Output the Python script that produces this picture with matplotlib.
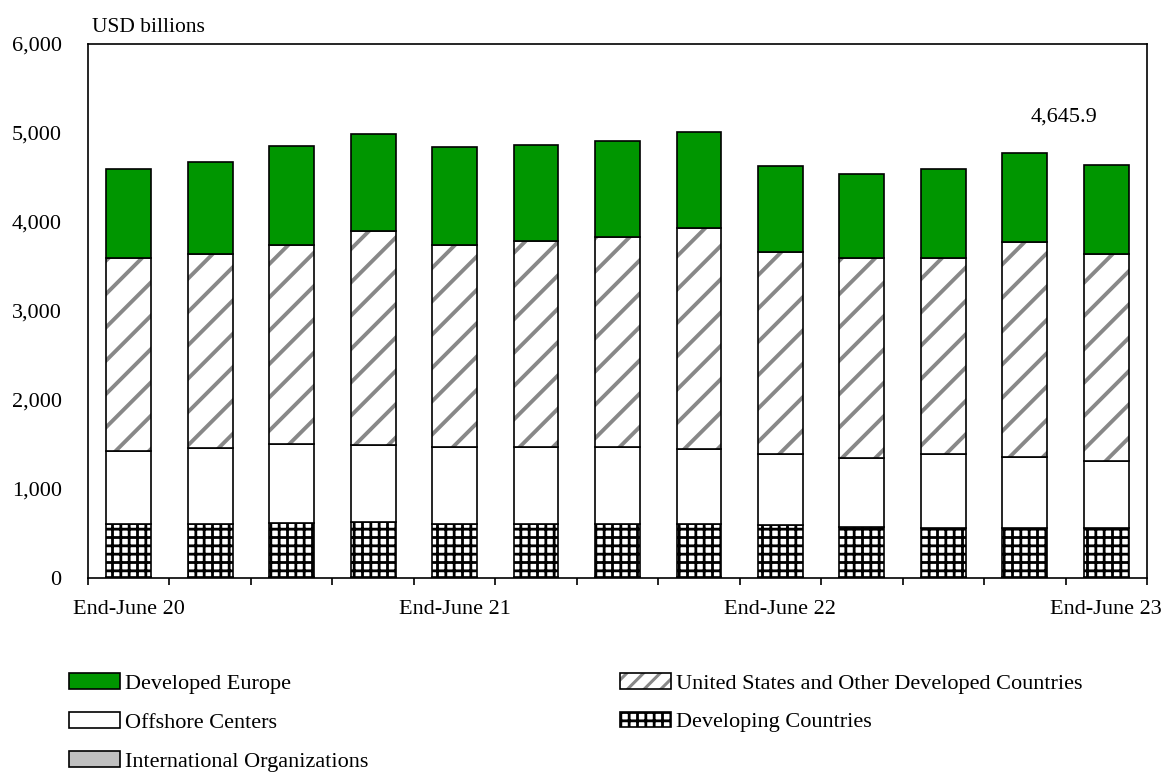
import numpy as np
import matplotlib
matplotlib.use("Agg")
import matplotlib.pyplot as plt
from matplotlib.patches import Patch

plt.rcParams['font.family'] = ['Liberation Serif', 'DejaVu Serif']

periods = ["End-June 20", "", "", "", "End-June 21", "", "", "",
           "End-June 22", "", "", "", "End-June 23"]

# USD billions
intl_org = [15, 15, 15, 15, 15, 15, 15, 15, 15, 15, 15, 15, 15]
developing = [588, 595, 603, 610, 595, 592, 592, 592, 581, 562, 551, 543, 543]
offshore = [827, 854, 891, 865, 866, 869, 869, 839, 794, 771, 824, 805, 760]
us_other = [2166, 2173, 2236, 2413, 2269, 2314, 2355, 2490, 2269, 2251, 2209, 2409, 2326]
dev_europe = [996, 1041, 1112, 1089, 1098, 1072, 1079, 1079, 974, 944, 1000, 1003, 1001.9]

green = '#009600'
stripe = '#888888'
fs = 16
lw_grid = 2.0
lw_stripe = 2.8

fig = plt.figure(figsize=(11.68, 7.72), dpi=100)
ax = fig.add_axes([88/1168, 1-578/772, (1147-88)/1168, (578-44)/772])

x = np.arange(len(periods))
w = 0.55
bottom = np.zeros(len(x))


def set_hlw(bars, lw):
    for b in bars:
        if hasattr(b, 'set_hatch_linewidth'):
            b.set_hatch_linewidth(lw)


b_int = ax.bar(x, intl_org, w, bottom=bottom, color='#c0c0c0', edgecolor='black', linewidth=1.2)
bottom += intl_org

plt.rcParams['hatch.linewidth'] = lw_grid
b_dev = ax.bar(x, developing, w, bottom=bottom, color='white', edgecolor='black',
               linewidth=1.2, hatch='++')
set_hlw(b_dev, lw_grid)
bottom += developing

b_off = ax.bar(x, offshore, w, bottom=bottom, color='white', edgecolor='black', linewidth=1.2)
bottom += offshore

plt.rcParams['hatch.linewidth'] = lw_stripe
b_us = ax.bar(x, us_other, w, bottom=bottom, color='white', edgecolor=stripe,
              linewidth=0, hatch='/')
set_hlw(b_us, lw_stripe)
ax.bar(x, us_other, w, bottom=bottom, fill=False, edgecolor='black', linewidth=1.2)
bottom += us_other

b_eu = ax.bar(x, dev_europe, w, bottom=bottom, color=green, edgecolor='black', linewidth=1.2)
bottom += dev_europe

ax.text(x[-1] - 0.52, 5180, f"{bottom[-1]:,.1f}", ha='center', va='center', fontsize=fs)

ax.set_xlim(-0.5, len(x) - 0.5)
ax.set_ylim(0, 6000)
ax.set_yticks(np.arange(0, 6001, 1000))
ax.set_yticklabels([f"{v:,}" for v in range(0, 6001, 1000)], fontsize=fs)
ax.tick_params(axis='y', length=0, pad=19)

ax.set_xticks(np.arange(-0.5, len(x)), minor=False)
ax.set_xticklabels([])
ax.tick_params(axis='x', which='major', length=5, width=1.2, direction='out')
lab_pos = [i for i, p in enumerate(periods) if p]
ax.set_xticks(lab_pos, minor=True)
ax.set_xticklabels([periods[i] for i in lab_pos], minor=True, fontsize=fs)
ax.tick_params(axis='x', which='minor', length=0, pad=16)

for s in ax.spines.values():
    s.set_linewidth(1.2)

fig.text(92/1168, 1-27/772, "USD billions", fontsize=15.5, va='center', ha='left')

# legend, laid out as two columns
common = dict(frameon=False, borderpad=0, borderaxespad=0, fontsize=fs,
              handlelength=2.3, handleheight=0.7, handletextpad=0.2, labelspacing=0.84,
              loc='upper left')
top = 1 - 673/772
row = 38.5/772

h_eu = Patch(facecolor=green, edgecolor='black', linewidth=1.2)
h_off = Patch(facecolor='white', edgecolor='black', linewidth=1.2)
h_int = Patch(facecolor='#c0c0c0', edgecolor='black', linewidth=1.2)
fig.legend([h_eu, h_off, h_int], ["Developed Europe", "Offshore Centers",
                                  "International Organizations"],
           bbox_to_anchor=(69/1168, top), **common)

plt.rcParams['hatch.linewidth'] = 2.2
h_us1 = Patch(facecolor='white', edgecolor=stripe, linewidth=0, hatch='//')
h_us2 = Patch(fill=False, edgecolor='black', linewidth=1.2)
fig.legend([(h_us1, h_us2)], ["United States and Other Developed Countries"],
           bbox_to_anchor=(620/1168, top), **common)

plt.rcParams['hatch.linewidth'] = lw_grid
h_dev = Patch(facecolor='white', edgecolor='black', linewidth=1.2, hatch='++')
fig.legend([h_dev], ["Developing Countries"],
           bbox_to_anchor=(620/1168, top - row), **common)

fig.savefig("out.png", dpi=100)
